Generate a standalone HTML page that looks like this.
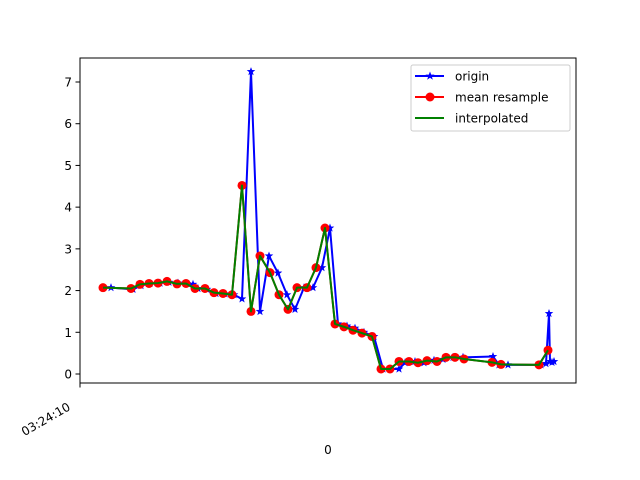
<!DOCTYPE html>
<html><head><meta charset="utf-8"><style>
html,body{margin:0;padding:0;background:#fff;}
svg{display:block;font-family:"DejaVu Sans","Liberation Sans",sans-serif;}
</style></head><body>
<svg id="chart" width="640" height="480" viewBox="0 0 640 480">
<rect x="0" y="0" width="640" height="480" fill="#fff"/>
<g id="series"></g>
<rect x="80" y="58" width="496" height="325" fill="none" stroke="#000" stroke-width="1"/>
<g id="yaxis"></g>
<g>
<line x1="80" y1="383" x2="80" y2="387.5" stroke="#000"/>
<text x="67" y="402" font-size="12" text-anchor="end" transform="rotate(-30 67 402)" dy="0.7em">03:24:10</text>
<text x="328" y="454" font-size="12" text-anchor="middle">0</text>
</g>
<g>
<rect x="411" y="65" width="159" height="66" rx="2" fill="#fff" fill-opacity="0.8" stroke="#ccc"/>
<g>
<line x1="415" y1="76" x2="444" y2="76" stroke="blue" stroke-width="2"/>
<polygon points="430,71.5 431.2,74.6 434.5,74.6 431.9,76.6 432.8,79.7 430,77.8 427.2,79.7 428.1,76.6 425.5,74.6 428.8,74.6" fill="blue"/>
<text x="455" y="80.5" font-size="12">origin</text></g>
<g>
<line x1="415" y1="97" x2="444" y2="97" stroke="red" stroke-width="2"/>
<circle cx="430" cy="97" r="4.5" fill="red"/>
<text x="455" y="101.5" font-size="12">mean resample</text></g>
<g>
<line x1="415" y1="118" x2="444" y2="118" stroke="green" stroke-width="2"/>
<text x="455" y="122.5" font-size="12">interpolated</text></g>
</g>
</svg>
<script>
const originT=[111,133,141,150,160,169,178,187,193,198,207,216,225,234,242,251,260,269,278,287,295,304,313,322,330,338,347,355,364,374,383,399,405,415,424,434,443,453,463,493,499,508,541,546,549,550,552,554];
const originV=[2.07,2.03,2.12,2.17,2.18,2.2,2.18,2.17,2.15,2.05,2.03,1.93,1.92,1.9,1.8,7.25,1.5,2.83,2.42,1.9,1.55,2.07,2.07,2.55,3.5,1.2,1.15,1.1,1.0,0.9,0.12,0.12,0.27,0.3,0.27,0.33,0.35,0.4,0.4,0.42,0.22,0.22,0.22,0.25,1.45,0.3,0.28,0.3];
const meanT=[103,131,140,149,158,167,177,186,195,205,214,223,232,242,251,260,270,279,288,297,307,316,325,335,344,353,362,372,381,390,399,409,418,427,437,446,455,464,492,501,539,548];
const meanV=[2.07,2.05,2.15,2.17,2.18,2.22,2.16,2.17,2.05,2.05,1.95,1.93,1.9,4.52,1.5,2.83,2.43,1.9,1.55,2.07,2.07,2.55,3.5,1.2,1.13,1.05,0.98,0.9,0.12,0.12,0.3,0.3,0.27,0.32,0.3,0.4,0.4,0.36,0.28,0.23,0.22,0.57];
const interpT=meanT.slice();
const interpV=meanV.slice();
const yTicks=[0,1,2,3,4,5,6,7];
const NS='http://www.w3.org/2000/svg';
const xs=t=>80+(t-80)*(576-80)/(576-80);
const ys=v=>374-v*(374-82)/7;
const g=document.getElementById('series');
const ya=document.getElementById('yaxis');
yTicks.forEach(v=>{
  const l=document.createElementNS(NS,'line');
  l.setAttribute('x1',75.5);l.setAttribute('x2',80);l.setAttribute('y1',ys(v));l.setAttribute('y2',ys(v));l.setAttribute('stroke','#000');
  
  
  ya.appendChild(l);
  const t=document.createElementNS(NS,'text');
  t.setAttribute('x',72);t.setAttribute('y',ys(v)+4.5);t.setAttribute('font-size','12');t.setAttribute('text-anchor','end');
  t.textContent=v;
  
  
  ya.appendChild(t);
});
function line(T,V,color,name){
  const p=document.createElementNS(NS,'polyline');
  p.setAttribute('points',T.map((t,i)=>xs(t)+','+ys(V[i])).join(' '));
  p.setAttribute('fill','none');p.setAttribute('stroke',color);p.setAttribute('stroke-width','2');p.setAttribute('stroke-linejoin','round');
  
  
  g.appendChild(p);
}
function star(cx,cy,r){
  const pts=[];for(let i=0;i<10;i++){const a=-Math.PI/2+i*Math.PI/5;const rr=i%2?r*0.42:r;pts.push((cx+rr*Math.cos(a)).toFixed(2)+','+(cy+rr*Math.sin(a)).toFixed(2));}
  return pts.join(' ');
}
line(originT,originV,'blue','origin-line');
originT.forEach((t,i)=>{
  const s=document.createElementNS(NS,'polygon');
  s.setAttribute('points',star(xs(t),ys(originV[i]),4.5));s.setAttribute('fill','blue');
  
  
  g.appendChild(s);
});
line(meanT,meanV,'red','mean-resample-line');
meanT.forEach((t,i)=>{
  const c=document.createElementNS(NS,'circle');
  c.setAttribute('cx',xs(t));c.setAttribute('cy',ys(meanV[i]));c.setAttribute('r',4.5);c.setAttribute('fill','red');
  
  
  g.appendChild(c);
});
line(interpT,interpV,'green','interpolated-line');
</script>
</body></html>
